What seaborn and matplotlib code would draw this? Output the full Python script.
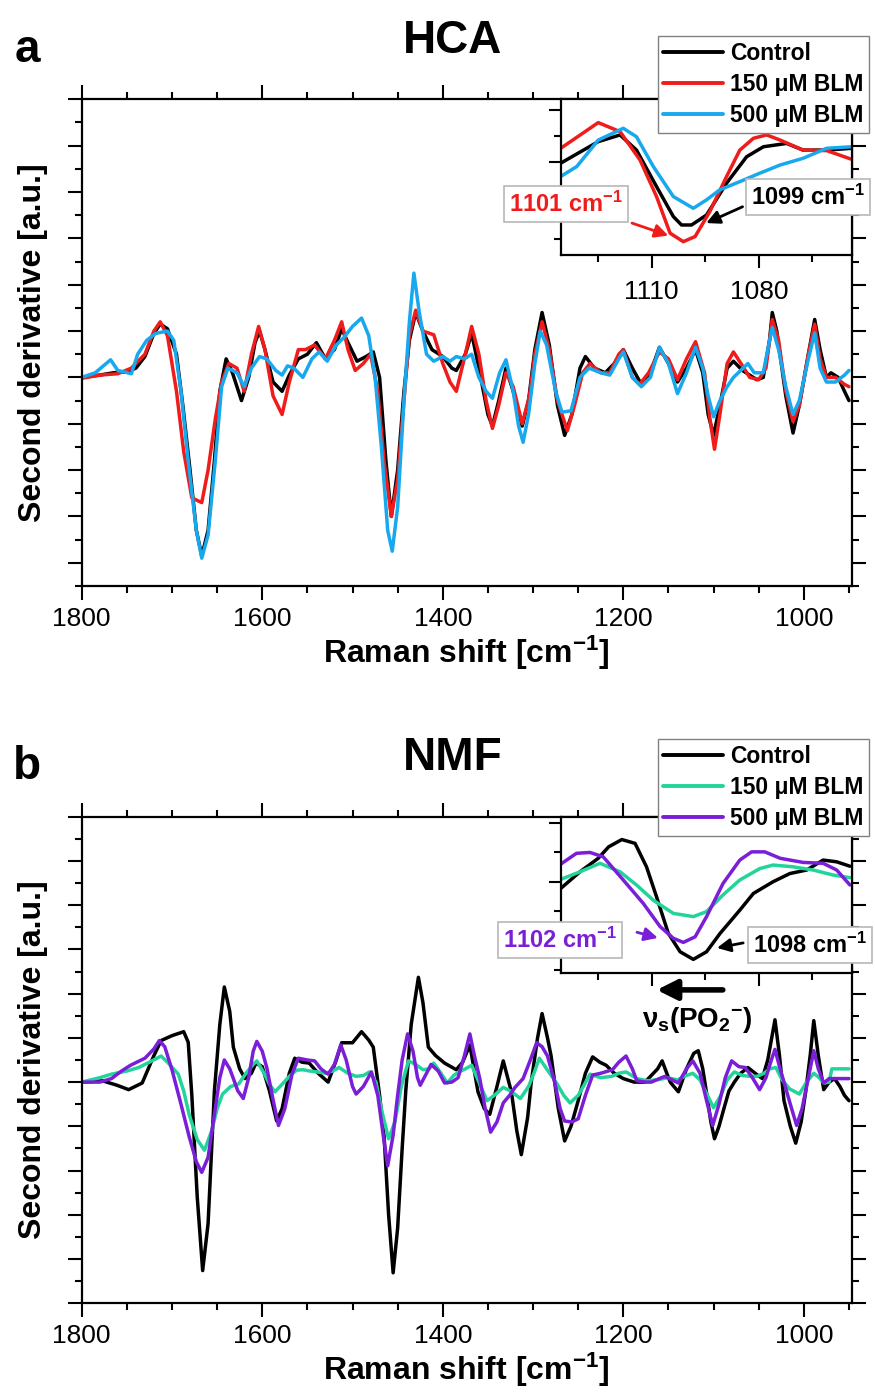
import numpy as np
import matplotlib.pyplot as plt
import pandas as pd
import seaborn as sns
from matplotlib.ticker import MultipleLocator
from matplotlib.lines import Line2D

# ---------------- data (arbitrary units) ----------------
# panel a (HCA), main spectrum
a_ctrl_x = [1800, 1780, 1765, 1750, 1740, 1730, 1720, 1713, 1705, 1695, 1688, 1680, 1673, 1667, 1660, 1653,
            1647, 1640, 1633, 1623, 1615, 1608, 1603, 1597, 1588, 1578, 1570, 1560, 1550, 1540, 1530, 1520,
            1512, 1505, 1495, 1485, 1477, 1470, 1463, 1457, 1450, 1443, 1437, 1430, 1422, 1412, 1400, 1390,
            1385, 1375, 1368, 1360, 1350, 1345, 1338, 1330, 1322, 1312, 1305, 1298, 1290, 1282, 1273, 1265,
            1257, 1248, 1242, 1232, 1220, 1210, 1200, 1190, 1180, 1170, 1160, 1150, 1140, 1130, 1120, 1112,
            1106, 1100, 1093, 1085, 1078, 1068, 1060, 1052, 1045, 1038, 1035, 1030, 1020, 1012, 1005, 995,
            988, 982, 975, 970, 962, 955, 950]
a_ctrl_y = [0.0, 0.05, 0.1, 0.12, 0.2, 0.45, 0.95, 1.15, 1.05, 0.5, -0.6, -2.0, -3.3, -3.85, -3.3, -1.8,
            -0.3, 0.4, 0.1, -0.5, 0.0, 0.75, 1.0, 0.6, -0.1, -0.3, 0.05, 0.4, 0.5, 0.75, 0.4, 0.6,
            1.05, 0.75, 0.35, 0.45, 0.55, 0.0, -1.8, -3.0, -2.0, -0.3, 0.8, 1.4, 1.0, 0.6, 0.45, 0.2,
            0.15, 0.5, 0.95, 0.2, -0.8, -1.05, -0.5, 0.2, -0.3, -1.05, -0.5, 0.6, 1.4, 0.7, -0.6, -1.25,
            -0.8, 0.2, 0.45, 0.2, 0.1, 0.3, 0.6, 0.2, -0.15, 0.1, 0.65, 0.3, -0.1, 0.2, 0.6, 0.1,
            -0.8, -1.25, -0.6, 0.2, 0.35, 0.15, 0.05, -0.05, 0.0, 0.8, 1.4, 1.0, -0.4, -1.2, -0.6, 0.5,
            1.25, 0.6, 0.0, 0.1, 0.0, -0.3, -0.5]

a_150_x = [1800, 1780, 1760, 1745, 1730, 1720, 1713, 1705, 1695, 1687, 1678, 1667, 1660, 1652, 1645, 1637,
           1628, 1620, 1612, 1604, 1597, 1588, 1578, 1570, 1560, 1552, 1542, 1530, 1520, 1512, 1505, 1497,
           1488, 1480, 1472, 1465, 1457, 1450, 1443, 1437, 1430, 1422, 1410, 1400, 1392, 1385, 1375, 1368,
           1360, 1352, 1345, 1338, 1330, 1322, 1312, 1304, 1298, 1290, 1282, 1273, 1262, 1254, 1245, 1237,
           1225, 1215, 1205, 1200, 1190, 1182, 1172, 1160, 1150, 1140, 1130, 1120, 1110, 1104, 1099, 1093,
           1085, 1078, 1068, 1060, 1050, 1042, 1035, 1028, 1020, 1012, 1005, 995, 988, 982, 975, 965,
           955, 950]
a_150_y = [-0.02, 0.05, 0.08, 0.2, 0.5, 1.0, 1.2, 0.9, -0.3, -1.6, -2.6, -2.7, -2.0, -0.9, -0.1, 0.3,
           0.2, -0.3, 0.5, 1.1, 0.6, -0.4, -0.8, -0.1, 0.6, 0.6, 0.7, 0.4, 0.8, 1.2, 0.6, 0.15,
           0.3, 0.5, -0.3, -1.8, -3.0, -2.2, -0.5, 0.9, 1.45, 1.0, 0.92, 0.3, -0.1, -0.3, 0.5, 1.1,
           0.5, -0.5, -1.1, -0.6, 0.1, -0.2, -1.0, -0.4, 0.5, 1.2, 0.6, -0.5, -1.15, -0.6, 0.1, 0.3,
           0.1, 0.1, 0.5, 0.6, 0.0, -0.15, 0.1, 0.55, 0.4, -0.05, 0.4, 0.77, 0.1, -0.9, -1.55, -0.8,
           0.3, 0.55, 0.25, 0.0, -0.05, 0.2, 1.25, 0.8, -0.3, -0.95, -0.6, 0.5, 1.15, 0.4, 0.0, 0.0,
           -0.15, -0.2]

a_500_x = [1800, 1785, 1768, 1760, 1745, 1738, 1728, 1718, 1705, 1698, 1690, 1682, 1673, 1667, 1660, 1652,
           1645, 1638, 1628, 1620, 1612, 1603, 1595, 1585, 1578, 1572, 1565, 1555, 1545, 1537, 1528, 1518,
           1510, 1500, 1490, 1482, 1475, 1468, 1461, 1456, 1450, 1443, 1437, 1432, 1426, 1418, 1410, 1400,
           1392, 1385, 1376, 1368, 1360, 1352, 1345, 1337, 1330, 1322, 1316, 1311, 1305, 1298, 1292, 1285,
           1275, 1268, 1258, 1248, 1238, 1225, 1215, 1205, 1200, 1190, 1180, 1170, 1160, 1150, 1140, 1130,
           1120, 1112, 1106, 1100, 1093, 1085, 1078, 1070, 1062, 1055, 1045, 1040, 1035, 1028, 1020, 1012,
           1005, 995, 988, 982, 975, 965, 955, 950]
a_500_y = [0.0, 0.1, 0.38, 0.15, 0.08, 0.5, 0.8, 0.95, 1.0, 0.8, -0.3, -1.8, -3.3, -3.9, -3.4, -1.8,
           -0.2, 0.2, 0.1, -0.2, 0.2, 0.45, 0.4, 0.15, 0.05, 0.25, 0.2, 0.0, 0.4, 0.55, 0.35, 0.7,
           0.85, 1.1, 1.28, 0.9, 0.0, -1.5, -3.3, -3.75, -2.8, -0.5, 1.2, 2.25, 1.4, 0.5, 0.35, 0.45,
           0.35, 0.45, 0.4, 0.5, 0.0, -0.3, -0.45, 0.1, 0.38, -0.3, -1.05, -1.4, -0.8, 0.3, 1.0, 0.7,
           -0.3, -0.75, -0.72, 0.0, 0.2, 0.1, 0.05, 0.4, 0.55, 0.0, -0.2, 0.0, 0.65, 0.3, -0.35, 0.1,
           0.65, 0.2, -0.4, -0.85, -0.5, -0.2, 0.0, 0.15, 0.3, 0.1, 0.1, 0.6, 1.08, 0.6, -0.2, -0.8,
           -0.5, 0.4, 0.96, 0.2, -0.1, -0.1, 0.05, 0.15]

# panel a inset (zoom 1135-1054 cm-1)
ia_ctrl_x = [1135.4, 1124.9, 1118.8, 1114.2, 1108.6, 1103.9, 1101.6, 1098.8, 1094.6, 1089.0, 1083.4, 1078.7,
             1072.2, 1067.6, 1061.0, 1054.0]
ia_ctrl_y = [-0.06, 0.78, 1.04, 0.45, -0.97, -2.14, -2.47, -2.47, -2.08, -0.84, 0.19, 0.58,
             0.71, 0.45, 0.45, 0.52]
ia_150_x = [1135.4, 1124.9, 1118.8, 1113.2, 1108.6, 1104.8, 1101.1, 1097.8, 1093.7, 1089.0, 1085.3, 1081.5,
            1077.8, 1074.0, 1067.6, 1061.0, 1054.0]
ia_150_y = [0.52, 1.52, 1.17, 0.06, -1.36, -2.79, -3.12, -2.92, -1.95, -0.58, 0.45, 0.91,
            1.04, 0.84, 0.45, 0.43, 0.09]
ia_500_x = [1135.4, 1130.9, 1124.9, 1117.9, 1114.2, 1109.5, 1103.9, 1098.3, 1094.6, 1090.9, 1085.3, 1079.7,
            1074.0, 1067.6, 1061.0, 1054.0]
ia_500_y = [-0.58, -0.19, 0.84, 1.3, 0.97, -0.19, -1.36, -1.82, -1.49, -1.10, -0.78, -0.45,
            -0.13, 0.13, 0.52, 0.58]

# panel b (NMF), main spectrum
b_ctrl_x = [1800, 1777, 1761, 1748, 1733, 1720, 1712, 1700, 1687, 1682, 1678, 1672, 1666, 1660, 1653, 1647,
            1642, 1636, 1632, 1625, 1619, 1612, 1607, 1600, 1592, 1584, 1578, 1570, 1564, 1556, 1548, 1538,
            1527, 1518, 1512, 1500, 1490, 1482, 1477, 1470, 1465, 1460, 1455, 1450, 1445, 1441, 1435, 1427,
            1422, 1416, 1408, 1398, 1385, 1378, 1370, 1361, 1354, 1348, 1340, 1333, 1324, 1318, 1313, 1306,
            1302, 1295, 1290, 1284, 1280, 1272, 1265, 1258, 1250, 1242, 1234, 1226, 1219, 1210, 1200, 1188,
            1176, 1162, 1157, 1150, 1148, 1139, 1130, 1122, 1117, 1112, 1108, 1103, 1099, 1094, 1089, 1083,
            1077, 1070, 1062, 1054, 1046, 1040, 1032, 1027, 1022, 1015, 1009, 1003, 998, 993, 989, 984,
            978, 972, 966, 960, 955, 950]
b_ctrl_y = [0.0, 0.03, -0.07, -0.17, -0.02, 0.6, 0.94, 1.05, 1.14, 0.9, -0.3, -2.6, -4.26, -3.2, -0.2, 1.3,
            2.15, 1.6, 0.79, 0.3, 0.08, 0.2, 0.43, 0.35, -0.2, -0.88, -0.6, 0.2, 0.54, 0.45, 0.43, 0.2,
            0.0, 0.5, 0.89, 0.89, 1.14, 0.95, 0.79, -0.3, -1.23, -3.0, -4.31, -3.3, -1.5, -0.2, 1.3, 2.37,
            1.8, 0.79, 0.6, 0.43, 0.28, 0.45, 0.84, -0.22, -0.6, -0.73, -0.1, 0.48, -0.22, -1.1, -1.64, -0.8,
            0.0, 1.0, 1.55, 1.0, 0.59, -0.6, -1.33, -1.0, -0.42, 0.2, 0.57, 0.45, 0.38, 0.2, 0.08, 0.0,
            0.0, 0.3, 0.48, 0.1, 0.0, -0.22, 0.3, 0.65, 0.71, 0.3, -0.22, -0.9, -1.28, -1.0, -0.63, -0.2,
            0.0, 0.2, 0.33, 0.2, 0.08, 0.5, 1.41, 0.6, -0.42, -1.0, -1.38, -0.9, -0.22, 0.6, 1.39, 0.6,
            -0.17, 0.0, 0.08, -0.1, -0.3, -0.42]

b_150_x = [1800, 1780, 1767, 1750, 1737, 1725, 1712, 1705, 1693, 1687, 1681, 1672, 1664, 1656, 1650, 1644,
           1635, 1626, 1618, 1610, 1606, 1598, 1592, 1586, 1578, 1570, 1562, 1555, 1547, 1539, 1530, 1522,
           1515, 1505, 1496, 1488, 1481, 1474, 1467, 1460, 1453, 1446, 1438, 1430, 1422, 1415, 1410, 1402,
           1395, 1388, 1382, 1375, 1368, 1360, 1351, 1343, 1333, 1325, 1314, 1305, 1299, 1293, 1285, 1274,
           1266, 1259, 1250, 1243, 1237, 1225, 1213, 1205, 1197, 1185, 1173, 1160, 1151, 1140, 1130, 1123,
           1115, 1108, 1100, 1092, 1085, 1077, 1068, 1060, 1052, 1044, 1038, 1031, 1024, 1016, 1005, 997,
           989, 983, 978, 972, 969, 960, 950]
b_150_y = [0.0, 0.1, 0.18, 0.25, 0.33, 0.45, 0.59, 0.45, 0.18, -0.2, -0.73, -1.3, -1.54, -1.1, -0.6, -0.27,
           -0.1, -0.04, 0.2, 0.4, 0.48, 0.2, -0.05, -0.22, -0.05, 0.13, 0.27, 0.28, 0.25, 0.23, 0.2, 0.25,
           0.33, 0.2, 0.13, 0.15, 0.23, 0.0, -0.7, -1.28, -0.9, -0.1, 0.48, 0.4, 0.28, 0.3, 0.43, 0.2,
           -0.02, 0.15, 0.23, 0.3, 0.38, 0.0, -0.42, -0.3, -0.12, -0.2, -0.37, -0.1, 0.2, 0.54, 0.3, -0.02,
           -0.3, -0.47, -0.3, -0.05, 0.18, 0.1, 0.13, 0.2, 0.23, 0.08, 0.03, 0.06, 0.1, 0.05, 0.15, 0.2,
           0.05, -0.25, -0.58, -0.3, 0.05, 0.23, 0.15, 0.13, 0.13, 0.2, 0.3, 0.33, 0.05, -0.15, -0.27, 0.0,
           0.2, 0.1, -0.02, 0.0, 0.3, 0.3, 0.3]

b_500_x = [1800, 1780, 1767, 1756, 1746, 1730, 1720, 1714, 1708, 1700, 1690, 1681, 1673, 1667, 1660, 1653,
           1647, 1642, 1636, 1632, 1627, 1621, 1615, 1610, 1606, 1600, 1595, 1588, 1582, 1575, 1567, 1560,
           1550, 1542, 1535, 1527, 1520, 1513, 1507, 1500, 1496, 1488, 1479, 1472, 1466, 1461, 1455, 1450,
           1445, 1439, 1433, 1428, 1425, 1418, 1413, 1405, 1398, 1390, 1383, 1376, 1370, 1365, 1359, 1353,
           1347, 1340, 1333, 1326, 1320, 1311, 1303, 1296, 1290, 1284, 1276, 1270, 1265, 1257, 1250, 1242,
           1234, 1225, 1212, 1205, 1197, 1190, 1185, 1175, 1169, 1160, 1154, 1146, 1139, 1130, 1123, 1115,
           1108, 1101, 1094, 1087, 1080, 1072, 1065, 1057, 1049, 1042, 1036, 1032, 1027, 1022, 1015, 1008,
           1002, 995, 989, 984, 978, 972, 960, 950]
b_500_y = [0.0, 0.0, 0.08, 0.25, 0.38, 0.54, 0.75, 0.94, 0.8, 0.28, -0.5, -1.23, -1.8, -2.04, -1.7, -0.73,
           0.1, 0.5, 0.3, 0.08, -0.2, -0.37, 0.1, 0.7, 0.92, 0.7, 0.33, -0.4, -0.98, -0.6, 0.18, 0.54,
           0.5, 0.48, 0.3, 0.18, 0.4, 0.84, 0.5, -0.1, -0.27, -0.1, 0.23, -0.3, -1.2, -1.89, -1.2, -0.3,
           0.5, 1.09, 0.7, 0.1, -0.07, 0.2, 0.4, 0.25, -0.02, 0.0, 0.1, 0.6, 1.09, 0.6, 0.08, -0.6,
           -1.13, -0.9, -0.47, -0.3, -0.12, 0.08, 0.5, 0.89, 0.8, 0.59, 0.0, -0.6, -0.88, -0.9, -0.83, -0.3,
           0.16, 0.2, 0.28, 0.45, 0.59, 0.3, 0.03, 0.0, 0.0, 0.08, 0.13, 0.05, -0.02, 0.3, 0.48, 0.2,
           -0.4, -0.98, -0.5, 0.1, 0.48, 0.35, 0.33, 0.1, -0.17, 0.1, 0.5, 0.74, 0.35, 0.0, -0.5, -0.98,
           -0.6, 0.1, 0.71, 0.3, -0.02, 0.08, 0.08, 0.08]

# panel b inset
ib_ctrl_x = [1135.4, 1130.0, 1124.9, 1122.0, 1118.3, 1114.6, 1111.4, 1108.6, 1105.3, 1102.0, 1098.3, 1094.6,
             1090.8, 1085.3, 1081.5, 1076.0, 1071.3, 1066.6, 1062.0, 1058.2, 1054.5]
ib_ctrl_y = [-0.23, 0.34, 0.8, 1.19, 1.44, 1.31, 0.51, -0.51, -1.76, -2.39, -2.65, -2.39,
             -1.76, -0.97, -0.4, 0.0, 0.28, 0.4, 0.74, 0.68, 0.53]
ib_150_x = [1135.4, 1130.0, 1124.4, 1118.8, 1114.2, 1109.5, 1103.9, 1098.3, 1094.6, 1090.0, 1085.3, 1079.7,
            1076.0, 1070.4, 1064.8, 1059.2, 1054.5]
ib_150_y = [0.08, 0.34, 0.63, 0.34, -0.11, -0.63, -1.08, -1.19, -1.02, -0.45, 0.06, 0.45,
            0.57, 0.51, 0.4, 0.23, 0.14]
ib_500_x = [1135.4, 1131.0, 1127.2, 1123.5, 1117.9, 1112.3, 1107.6, 1103.9, 1101.1, 1097.8, 1094.6, 1090.0,
            1085.3, 1082.0, 1078.3, 1074.0, 1067.6, 1062.0, 1058.2, 1054.5]
ib_500_y = [0.6, 0.97, 1.0, 0.85, 0.06, -0.74, -1.53, -1.93, -2.07, -1.88, -1.19, -0.06,
            0.74, 1.02, 1.02, 0.8, 0.66, 0.63, 0.4, -0.11]

labels = ['Control', '150 \u03bcM BLM', '500 \u03bcM BLM']
colors_a = ['black', '#f01c1c', '#18a8ee']
colors_b = ['black', '#22d49b', '#7a1ed8']

# ---------------- style ----------------
sns.set_theme(style='ticks')
plt.rcParams['font.family'] = ['Liberation Sans', 'DejaVu Sans']
plt.rcParams['mathtext.default'] = 'regular'
plt.rcParams.update({'axes.linewidth': 1.6, 'text.color': 'black', 'axes.labelcolor': 'black',
                     'xtick.color': 'black', 'ytick.color': 'black', 'axes.edgecolor': 'black',
                     'lines.solid_joinstyle': 'round'})

W, H = 875, 1394
fig = plt.figure(figsize=(W / 100, H / 100), dpi=100)


def frac(px, py):
    return px / W, 1 - py / H


def style_main(ax, ylo):
    ax.set_xlim(1800, 947)
    ax.set_ylim(ylo, 6)
    ax.xaxis.set_major_locator(MultipleLocator(200))
    ax.xaxis.set_minor_locator(MultipleLocator(50))
    ax.yaxis.set_major_locator(MultipleLocator(1))
    ax.yaxis.set_minor_locator(MultipleLocator(0.5))
    ax.tick_params(which='both', direction='out', top=True, right=True, labelleft=False,
                   width=1.5, color='black', labelsize=19, pad=5)
    ax.tick_params(which='major', length=10)
    ax.tick_params(which='minor', length=5)
    ax.set_xlabel('Raman shift [cm$^{-1}$]', fontsize=23, fontweight='bold', labelpad=2)
    ax.set_ylabel('Second derivative [a.u.]', fontsize=23, fontweight='bold', labelpad=14)


def style_inset(ax, xr, yr, show_labels):
    ax.set_xlim(*xr)
    ax.set_ylim(*yr)
    ax.xaxis.set_major_locator(MultipleLocator(30))
    ax.xaxis.set_minor_locator(MultipleLocator(15))
    ax.yaxis.set_major_locator(MultipleLocator(2))
    ax.yaxis.set_minor_locator(MultipleLocator(1))
    ax.tick_params(which='both', direction='out', top=False, right=False, labelleft=False,
                   labelbottom=show_labels, width=1.5, labelsize=19, pad=9)
    ax.tick_params(which='major', length=9)
    ax.tick_params(which='minor', length=5)
    ax.set_xlabel('')
    ax.set_ylabel('')
    ax.set_facecolor('white')


def draw(ax, xs, ys, colors):
    for x, y, c in zip(xs, ys, colors):
        df = pd.DataFrame({'shift': x, 'd2': y})
        sns.lineplot(data=df, x='shift', y='d2', ax=ax, color=c, linewidth=2.5,
                     sort=False, estimator=None, legend=False)


def box_label(ax, text, xy, color):
    ax.text(xy[0], xy[1], text, transform=ax.transAxes, color=color, fontsize=17,
            fontweight='bold', ha='center', va='center', clip_on=False, zorder=10,
            bbox=dict(boxstyle='square,pad=0.22', fc='white', ec='#b8b8b8', lw=1.2))


def arrow(ax, tail, head, color, lw=2.0, ms=20):
    ax.annotate('', xy=head, xytext=tail, xycoords='axes fraction', textcoords='axes fraction',
                annotation_clip=False,
                arrowprops=dict(arrowstyle='-|>', color=color, lw=lw, mutation_scale=ms,
                                shrinkA=0, shrinkB=0))


# ---------------- panel a ----------------
l, b = frac(81.7, 586)
ax_a = fig.add_axes([l, b, 770 / W, 486.7 / H])
draw(ax_a, [a_ctrl_x, a_150_x, a_500_x], [a_ctrl_y, a_150_y, a_500_y], colors_a)
style_main(ax_a, -4.5)

l, b = frac(560.7, 255)
in_a = fig.add_axes([l, b, 291 / W, 155.7 / H])
draw(in_a, [ia_ctrl_x, ia_150_x, ia_500_x], [ia_ctrl_y, ia_150_y, ia_500_y], colors_a)
style_inset(in_a, (1135.4, 1054), (-3.64, 2.43), True)
box_label(in_a, '1101 cm$^{-1}$', (0.018, 0.328), '#f01c1c')
arrow(in_a, (0.245, 0.205), (0.37, 0.125), '#f01c1c')
box_label(in_a, '1099 cm$^{-1}$', (0.85, 0.372), 'black')
arrow(in_a, (0.625, 0.31), (0.5, 0.205), 'black')

fig.text(*frac(27, 62), 'a', fontsize=33, fontweight='bold', ha='center', va='baseline')
fig.text(*frac(453, 53), 'HCA', fontsize=33, fontweight='bold', ha='center', va='baseline')

hand_a = [Line2D([], [], color=c, lw=2.8) for c in colors_a]
fig.legend(hand_a, labels, loc='upper right', bbox_to_anchor=frac(869, 36), frameon=True,
           fancybox=False, edgecolor='#808080', framealpha=1, borderaxespad=0,
           prop={'weight': 'bold', 'size': 16.5}, handlelength=2.6, handletextpad=0.3,
           borderpad=0.25, labelspacing=0.35)

# ---------------- panel b ----------------
l, b = frac(81.7, 1303.3)
ax_b = fig.add_axes([l, b, 770 / W, 486.6 / H])
draw(ax_b, [b_ctrl_x, b_150_x, b_500_x], [b_ctrl_y, b_150_y, b_500_y], colors_b)
style_main(ax_b, -5)

l, b = frac(560.7, 973.3)
in_b = fig.add_axes([l, b, 291 / W, 156.6 / H])
draw(in_b, [ib_ctrl_x, ib_150_x, ib_500_x], [ib_ctrl_y, ib_150_y, ib_500_y], colors_b)
style_inset(in_b, (1135.4, 1054), (-3.125, 2.22), False)
box_label(in_b, '1102 cm$^{-1}$', (-0.002, 0.213), '#7a1ed8')
arrow(in_b, (0.262, 0.262), (0.334, 0.226), '#7a1ed8')
box_label(in_b, '1098 cm$^{-1}$', (0.857, 0.181), 'black')
arrow(in_b, (0.627, 0.194), (0.537, 0.162), 'black')
arrow(in_b, (0.557, -0.106), (0.33, -0.106), 'black', lw=4, ms=30)
in_b.text(0.469, -0.30, r'$\nu_{s}$(PO$_{2}$$^{-}$)', transform=in_b.transAxes, fontsize=20,
          fontweight='bold', ha='center', va='center', clip_on=False)

fig.text(*frac(27, 779), 'b', fontsize=33, fontweight='bold', ha='center', va='baseline')
fig.text(*frac(453, 770), 'NMF', fontsize=33, fontweight='bold', ha='center', va='baseline')

hand_b = [Line2D([], [], color=c, lw=2.8) for c in colors_b]
fig.legend(hand_b, labels, loc='upper right', bbox_to_anchor=frac(869, 739), frameon=True,
           fancybox=False, edgecolor='#808080', framealpha=1, borderaxespad=0,
           prop={'weight': 'bold', 'size': 16.5}, handlelength=2.6, handletextpad=0.3,
           borderpad=0.25, labelspacing=0.35)

fig.savefig('out.png', dpi=100, facecolor='white')
